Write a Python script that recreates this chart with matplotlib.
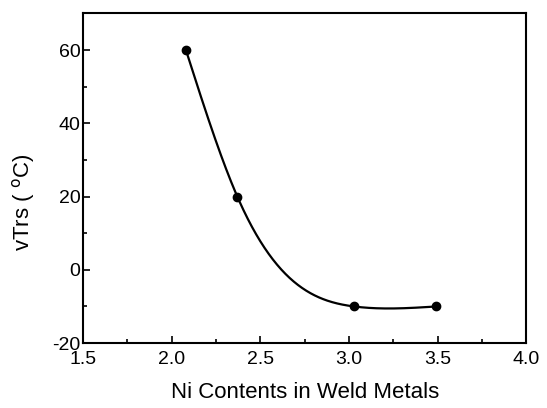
import numpy as np
import matplotlib
matplotlib.use("Agg")
import matplotlib.pyplot as plt
from matplotlib.ticker import MultipleLocator

ni = [2.08, 2.37, 3.03, 3.49]
vtrs = [60, 20, -10, -10]

def natural_spline(x, y, xs):
    x = np.asarray(x, float); y = np.asarray(y, float)
    n = len(x)
    h = np.diff(x)
    A = np.zeros((n, n)); b = np.zeros(n)
    A[0, 0] = 1; A[-1, -1] = 1
    for i in range(1, n - 1):
        A[i, i - 1] = h[i - 1]
        A[i, i] = 2 * (h[i - 1] + h[i])
        A[i, i + 1] = h[i]
        b[i] = 3 * ((y[i + 1] - y[i]) / h[i] - (y[i] - y[i - 1]) / h[i - 1])
    c = np.linalg.solve(A, b)
    out = np.empty_like(xs)
    for k, xv in enumerate(xs):
        i = min(max(np.searchsorted(x, xv) - 1, 0), n - 2)
        d = (c[i + 1] - c[i]) / (3 * h[i])
        bb = (y[i + 1] - y[i]) / h[i] - h[i] * (2 * c[i] + c[i + 1]) / 3
        t = xv - x[i]
        out[k] = y[i] + bb * t + c[i] * t ** 2 + d * t ** 3
    return out

plt.rcParams['font.family'] = ['Liberation Sans', 'DejaVu Sans']
plt.rcParams['axes.unicode_minus'] = False
fig = plt.figure(figsize=(5.47, 4.08), dpi=100)
ax = fig.add_axes([0.152, 0.159, 0.810, 0.808])

xs = np.linspace(ni[0], ni[-1], 300)
ax.plot(xs, natural_spline(ni, vtrs, xs), color='black', lw=1.6)
ax.plot(ni, vtrs, 'o', color='black', ms=6)

ax.set_xlim(1.5, 4.0)
ax.set_ylim(-20, 70)
ax.xaxis.set_major_locator(MultipleLocator(0.5))
ax.xaxis.set_minor_locator(MultipleLocator(0.25))
ax.yaxis.set_minor_locator(MultipleLocator(10))
ax.set_yticks([-20, 0, 20, 40, 60])
ax.tick_params(which='both', direction='in', top=False, right=False, labelsize=14, width=1.2, pad=2)
ax.tick_params(axis='x', which='major', pad=6)
ax.tick_params(which='major', length=5)
ax.tick_params(which='minor', length=3)
for s in ax.spines.values():
    s.set_linewidth(1.5)

ax.set_xlabel('Ni Contents in Weld Metals', fontsize=16, labelpad=10)
ax.set_ylabel('vTrs ( $^\\mathrm{o}$C)', fontsize=16)
ax.yaxis.set_label_coords(-0.104, 0.427)

fig.savefig('out.png', dpi=100)
